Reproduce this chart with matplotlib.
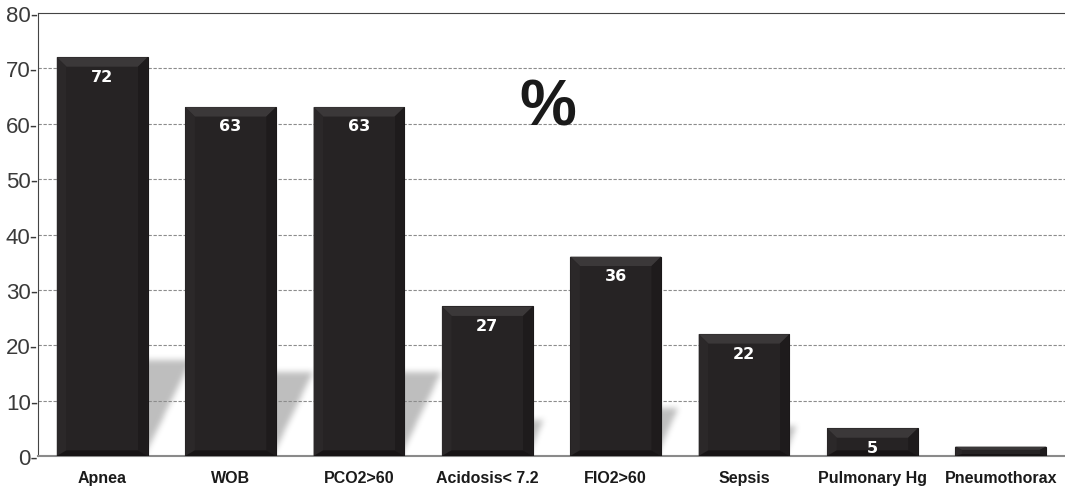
import numpy as np
import matplotlib.pyplot as plt
from matplotlib.patches import Polygon, Rectangle
from matplotlib.path import Path

categories = ["Apnea", "WOB", "PCO2>60", "Acidosis< 7.2", "FIO2>60",
              "Sepsis", "Pulmonary Hg", "Pneumothorax"]
values = [72, 63, 63, 27, 36, 22, 5, 1.7]
labels = ["72", "63", "63", "27", "36", "22", "5", ""]
yticks = [0, 10, 20, 30, 40, 50, 60, 70, 80]

fig = plt.figure(figsize=(10.65, 4.89), dpi=100)
ax = fig.add_axes([0.0357, 0.0654, 0.9643, 0.906])
ax.set_xlim(-0.5, 7.5)
ax.set_ylim(0, 80)

width = 0.707
# bevel size in data units (x and y scale differ)
bx, by = 0.075, 1.7
# pixels per data unit, used to keep the shadow slant the same for every bar
px_x, px_y = 128.7, 5.55


def box_blur(a, k, axis):
    pad = [(0, 0), (0, 0)]
    pad[axis] = (k, k)
    p = np.pad(a, pad, mode="edge")
    c = np.cumsum(p, axis=axis)
    c = np.insert(c, 0, 0, axis=axis)
    n = a.shape[axis]
    lo = np.arange(n) + k - k // 2
    hi = lo + k
    return (np.take(c, hi, axis=axis) - np.take(c, lo, axis=axis)) / k


# soft grey shadows leaning up and to the right behind each bar
nx, ny = 1030, 444
gx = np.linspace(-0.5, 7.5, nx)
gy = np.linspace(0, 80, ny)
GX, GY = np.meshgrid(gx, gy)
pts = np.column_stack([GX.ravel(), GY.ravel()])
mask = np.zeros(GX.size)
for i, v in enumerate(values):
    hs = v * 0.24
    s = 0.55 * hs * px_y / px_x
    xl, xr = i - width / 2, i + width / 2 - 0.07
    path = Path([(xl, -2), (xr, -2), (xr + s, hs), (xl + s, hs), (xl, -2)])
    mask = np.maximum(mask, path.contains_points(pts).astype(float))
mask = mask.reshape(ny, nx)
for _ in range(2):
    mask = box_blur(mask, 7, 1)
    mask = box_blur(mask, 7, 0)
shadow = np.zeros((ny, nx, 4))
shadow[..., :3] = 0.58
shadow[..., 3] = mask * 0.6
ax.imshow(shadow, extent=(-0.5, 7.5, 0, 80), origin="lower", aspect="auto",
          interpolation="bilinear", zorder=1)

# beveled dark bars
for i, v in enumerate(values):
    xl, xr = i - width / 2, i + width / 2
    byy = min(by, v * 0.35)
    bxx = bx if v > 4 else 0.05
    ax.add_patch(Rectangle((xl, 0), width, v, facecolor="#262324",
                           edgecolor="#1a1718", linewidth=0.8, zorder=3))
    ix0, ix1 = xl + bxx, xr - bxx
    iy0, iy1 = byy * 0.6, v - byy
    # top facet
    ax.add_patch(Polygon([(xl, v), (xr, v), (ix1, iy1), (ix0, iy1)],
                         facecolor="#3b3839", edgecolor="none", zorder=4))
    # left facet
    ax.add_patch(Polygon([(xl, 0), (xl, v), (ix0, iy1), (ix0, iy0)],
                         facecolor="#2b2829", edgecolor="none", zorder=4))
    # right facet
    ax.add_patch(Polygon([(xr, 0), (xr, v), (ix1, iy1), (ix1, iy0)],
                         facecolor="#1e1b1c", edgecolor="none", zorder=4))
    # bottom facet
    ax.add_patch(Polygon([(xl, 0), (xr, 0), (ix1, iy0), (ix0, iy0)],
                         facecolor="#171415", edgecolor="none", zorder=4))
    ax.add_patch(Rectangle((ix0, iy0), ix1 - ix0, iy1 - iy0,
                           facecolor="#262324", edgecolor="none", zorder=4))
    if labels[i]:
        ax.text(i, v - 3.4, labels[i], ha="center", va="center", color="white",
                fontsize=11.5, fontweight="bold", family="DejaVu Sans", zorder=5)

ax.set_yticks(yticks)
ax.set_yticklabels([f"{t}-" for t in yticks], fontsize=16, color="#3a3a3a",
                   family="Liberation Sans")
ax.tick_params(axis="y", length=0, pad=0)
ax.set_xticks(range(len(categories)))
ax.set_xticklabels(categories, fontsize=11.5, fontweight="bold",
                   family="Liberation Sans", color="#1a1a1a")
ax.tick_params(axis="x", length=0, pad=10)

for t in yticks[1:-1]:
    ax.axhline(t, color="#8c8c8c", linestyle=(0, (3, 1.5)), linewidth=0.8, zorder=2)

ax.spines["left"].set_color("#444444")
ax.spines["top"].set_color("#444444")
ax.spines["bottom"].set_color("#8a8a8a")
ax.spines["bottom"].set_linewidth(1.5)
ax.spines["right"].set_visible(False)

ax.text(3.47, 63, "%", ha="center", va="center", fontsize=46,
        fontweight="bold", family="Liberation Sans", color="#1a1a1a")

fig.savefig("out.png", dpi=100)
